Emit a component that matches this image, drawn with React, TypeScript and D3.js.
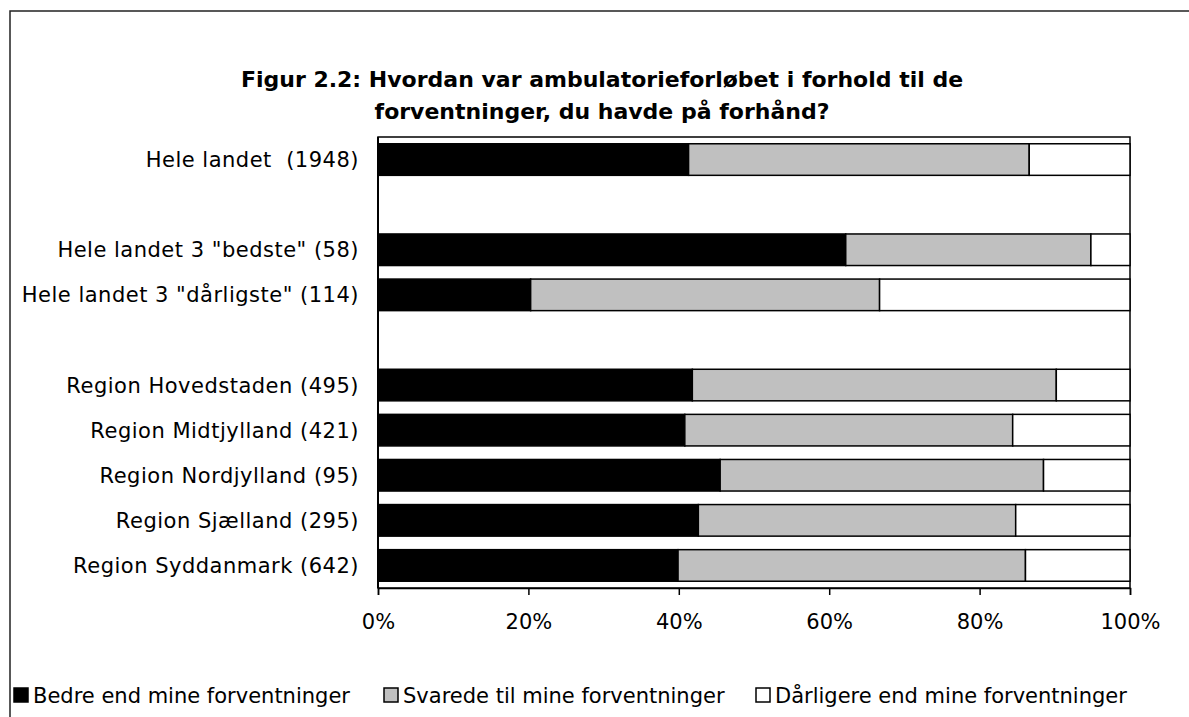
import React, { useEffect, useRef } from 'react';
import * as d3 from 'd3';

// categories top to bottom; empty strings are spacer rows
const categories = [
  'Hele landet  (1948)',
  '',
  'Hele landet 3 "bedste" (58)',
  'Hele landet 3 "dårligste" (114)',
  ' ',
  'Region Hovedstaden (495)',
  'Region Midtjylland (421)',
  'Region Nordjylland (95)',
  'Region Sjælland (295)',
  'Region Syddanmark (642)',
];

const bedre = [41.3, null, 62.2, 20.3, null, 41.8, 40.8, 45.5, 42.6, 39.9];
const svarede = [45.3, null, 32.6, 46.4, null, 48.4, 43.6, 43.0, 42.2, 46.2];
const daarligere = [13.4, null, 5.2, 33.3, null, 9.8, 15.6, 11.5, 15.2, 13.9];

const seriesNames = [
  'Bedre end mine forventninger',
  'Svarede til mine forventninger',
  'Dårligere end mine forventninger',
];
const seriesColors = ['#000000', '#c0c0c0', '#ffffff'];

const tickValues = [0, 20, 40, 60, 80, 100];

export default function App() {
  const ref = useRef<SVGSVGElement>(null);

  useEffect(() => {
    const svg = d3.select(ref.current);
    svg.selectAll('*').remove();

    const font = 'Verdana, "DejaVu Sans", sans-serif';
    const left = 378, top = 137, right = 1130, bottom = 588;

    // outer frame (left + top edge)
    svg.append('path')
      .attr('d', 'M10,717 L10,11 L1189,11')
      .attr('fill', 'none')
      .attr('stroke', '#222')
      .attr('stroke-width', 1.5);

    // title
    const title = svg.append('text')
      .attr('text-anchor', 'middle')
      .attr('font-family', font)
      .attr('font-weight', 'bold')
      .attr('font-size', 22)
      .attr('fill', '#000');
    title.append('tspan').attr('x', 602).attr('y', 87)
      .text('Figur 2.2: Hvordan var ambulatorieforløbet i forhold til de');
    title.append('tspan').attr('x', 602).attr('y', 119)
      .text('forventninger, du havde på forhånd?');

    const x = d3.scaleLinear().domain([0, 100]).range([left, right]);
    const y = d3.scaleBand<number>()
      .domain(d3.range(categories.length))
      .range([top, bottom])
      .paddingInner(0.3)
      .paddingOuter(0.15);

    // plot frame
    svg.append('rect')
      .attr('x', left).attr('y', top)
      .attr('width', right - left).attr('height', bottom - top)
      .attr('fill', 'none')
      .attr('stroke', '#000')
      .attr('stroke-width', 1.5);

    const rows = categories.map((c, i) => ({
      i,
      vals: [bedre[i], svarede[i], daarligere[i]],
    })).filter(r => r.vals[0] !== null);

    rows.forEach(r => {
      let acc = 0;
      r.vals.forEach((v, s) => {
        const val = v as number;
        svg.append('rect')
          .attr('x', x(acc))
          .attr('y', y(r.i)!)
          .attr('width', x(acc + val) - x(acc))
          .attr('height', y.bandwidth())
          .attr('fill', seriesColors[s])
          .attr('stroke', '#000')
          .attr('stroke-width', 1.5);
        acc += val;
      });
    });

    // category labels
    svg.append('g')
      .selectAll('text')
      .data(categories)
      .enter()
      .append('text')
      .attr('x', left - 19)
      .attr('y', (d, i) => y(i)! + y.bandwidth() / 2)
      .attr('dy', '0.36em')
      .attr('text-anchor', 'end')
      .attr('font-family', font)
      .attr('font-size', 21)
      .attr('letter-spacing', 0.5)
      .attr('fill', '#000')
      .style('white-space', 'pre')
      .text(d => d.trim());

    // left axis line
    svg.append('line')
      .attr('x1', left).attr('x2', left)
      .attr('y1', top).attr('y2', bottom)
      .attr('stroke', '#000').attr('stroke-width', 2);

    // bottom axis
    const xAxis = d3.axisBottom(x)
      .tickValues(tickValues)
      .tickSize(7)
      .tickPadding(19)
      .tickFormat(d => d + '%');
    const ax = svg.append('g')
      .attr('transform', `translate(0,${bottom})`)
      .call(xAxis);
    ax.select('.domain').attr('stroke', '#000').attr('stroke-width', 1.5);
    ax.selectAll('.tick line').attr('stroke', '#000').attr('stroke-width', 1.5);
    ax.selectAll('.tick text')
      .attr('font-family', font)
      .attr('font-size', 21)
      .attr('fill', '#000');

    // legend
    const legendX = [14, 384, 756];
    const lg = svg.append('g');
    seriesNames.forEach((name, s) => {
      lg.append('rect')
        .attr('x', legendX[s]).attr('y', 688)
        .attr('width', 14).attr('height', 14)
        .attr('fill', seriesColors[s])
        .attr('stroke', '#000')
        .attr('stroke-width', 1.5);
      lg.append('text')
        .attr('x', legendX[s] + 19).attr('y', 703)
        .attr('font-family', font)
        .attr('font-size', 21)
        .attr('fill', '#000')
        .text(name);
    });
  }, []);

  return (
    <svg ref={ref} width={1189} height={717}
      style={{ position: 'absolute', left: 0, top: 0, background: '#fff' }} />
  );
}
